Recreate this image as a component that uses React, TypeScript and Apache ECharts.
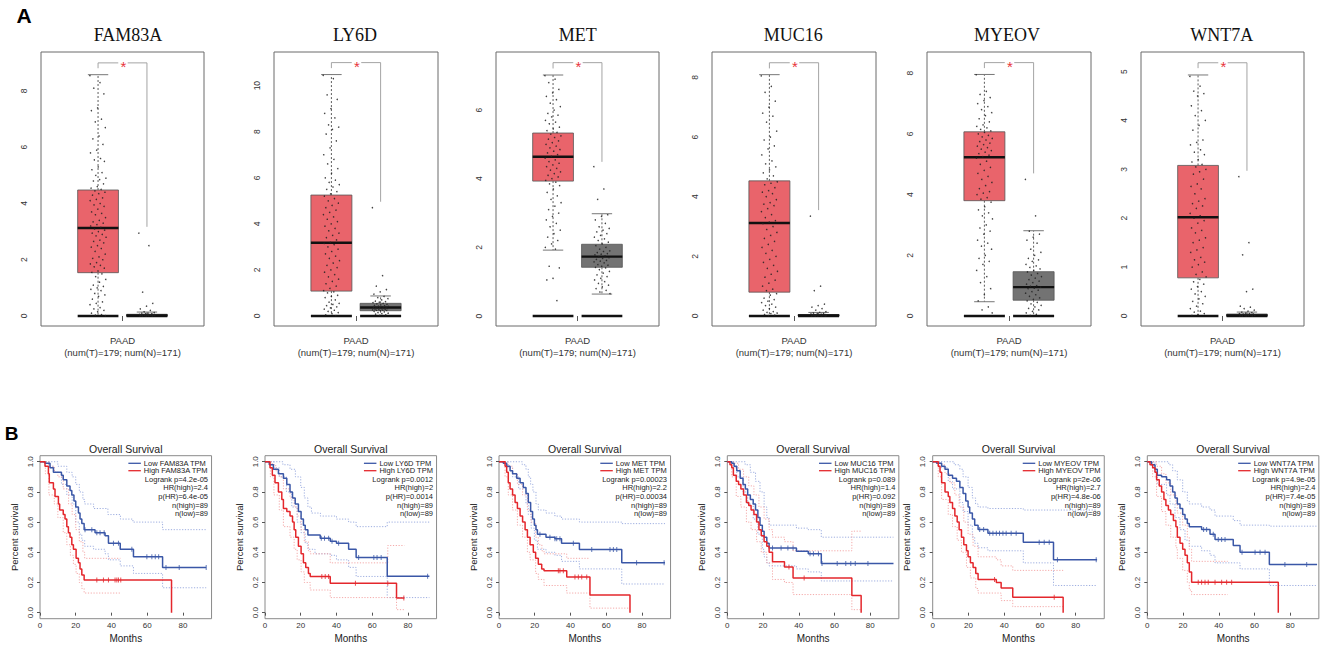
import React, { useEffect, useRef } from "react";
import * as echarts from "echarts";

const GENES = ["FAM83A", "LY6D", "MET", "MUC16", "MYEOV", "WNT7A"];
const CATEGORY_LABEL = "PAAD\n(num(T)=179; num(N)=171)";

// box stats: [min, q1, median, q3, max]
const TUMOR_STATS = [
  [0, 1.54, 3.13, 4.48, 8.58],
  [0, 1.08, 3.18, 5.25, 10.48],
  [1.92, 3.93, 4.64, 5.33, 7.02],
  [0, 0.8, 3.12, 4.53, 8.09],
  [0.47, 3.8, 5.23, 6.07, 7.96],
  [0, 0.78, 2.02, 3.08, 4.93],
];
const NORMAL_STATS = [
  [0, 0.0, 0.02, 0.06, 0.14],
  [0, 0.23, 0.37, 0.55, 0.87],
  [0.64, 1.42, 1.73, 2.09, 2.98],
  [0, 0.0, 0.02, 0.05, 0.12],
  [0, 0.52, 0.95, 1.46, 2.81],
  [0, 0.0, 0.01, 0.04, 0.08],
];
// significance bracket: [top, left end, right end]
const BRACKETS = [
  [9.0, 8.81, 3.17],
  [11.0, 10.76, 4.96],
  [7.38, 7.21, 4.49],
  [8.49, 8.3, 3.55],
  [8.35, 8.17, 4.7],
  [5.18, 5.07, 2.97],
];
const BOX_Y_RANGE = [
  [-0.356, 9.387],
  [-0.434, 11.46],
  [-0.29, 7.69],
  [-0.335, 8.85],
  [-0.33, 8.7],
  [-0.205, 5.4],
];
const BOX_Y_TICKS = [
  [0, 2, 4, 6, 8],
  [0, 2, 4, 6, 8, 10],
  [0, 2, 4, 6],
  [0, 2, 4, 6, 8],
  [0, 2, 4, 6, 8],
  [0, 1, 2, 3, 4, 5],
];

const FAM83A_T = [8.55, 8.3, 8.1, 7.9, 7.4, 7.3, 7.0, 6.9, 6.7, 6.4, 6.3, 6.1, 5.9, 5.8, 5.6, 5.55, 5.5, 5.3, 5.2, 5.1, 5.0, 4.9, 4.85, 4.8, 4.7, 4.6, 4.55, 4.5,
  4.45, 4.4, 4.35, 4.3, 4.2, 4.15, 4.1, 4.0, 3.95, 3.9, 3.8, 3.7, 3.65, 3.6, 3.5, 3.4, 3.35, 3.3, 3.25, 3.2, 3.15,
  3.1, 3.05, 3.0, 2.95, 2.9, 2.85, 2.8, 2.7, 2.65, 2.6, 2.5, 2.45, 2.4, 2.3, 2.2, 2.1, 2.05, 2.0, 1.9, 1.85, 1.8, 1.75, 1.7, 1.6, 1.55,
  1.5, 1.4, 1.3, 1.2, 1.1, 1.05, 1.0, 0.95, 0.9, 0.8, 0.75, 0.7, 0.6, 0.5, 0.45, 0.4, 0.3, 0.25, 0.2, 0.15, 0.1, 0.05, 0.03, 0.01];
const FAM83A_N = [2.95, 2.5, 0.85, 0.45, 0.35, 0.25, 0.2, 0.15, 0.12, 0.1, 0.1, 0.08, 0.08, 0.06, 0.05, 0.05, 0.04, 0.03, 0.03, 0.02, 0.02, 0.01, 0.01, 0, 0, 0, 0];
const LY6D_T = [10.45, 10.3, 9.6, 9.4, 9.0, 8.8, 8.6, 8.3, 8.2, 8.1, 7.9, 7.6, 7.3, 7.0, 6.8, 6.6, 6.4, 6.2, 6.0, 5.9, 5.8, 5.7, 5.6, 5.5, 5.4, 5.3,
  5.2, 5.1, 5.0, 4.9, 4.8, 4.7, 4.6, 4.5, 4.4, 4.3, 4.2, 4.1, 4.0, 3.9, 3.8, 3.7, 3.6, 3.5, 3.4, 3.3, 3.2,
  3.15, 3.1, 3.0, 2.9, 2.8, 2.7, 2.6, 2.5, 2.4, 2.3, 2.2, 2.1, 2.0, 1.9, 1.8, 1.7, 1.6, 1.5, 1.4, 1.3, 1.2, 1.1,
  1.05, 1.0, 0.9, 0.85, 0.8, 0.7, 0.6, 0.55, 0.5, 0.45, 0.4, 0.35, 0.3, 0.25, 0.2, 0.15, 0.1, 0.05, 0.02];
const LY6D_N = [4.7, 1.75, 1.3, 1.15, 1.05, 0.95, 0.85, 0.8, 0.75, 0.7, 0.65, 0.62, 0.6, 0.58, 0.55, 0.53, 0.5, 0.48, 0.46, 0.45, 0.43, 0.42, 0.4, 0.39, 0.38, 0.37, 0.36, 0.35, 0.34, 0.33, 0.32, 0.3, 0.29, 0.28, 0.27, 0.26, 0.25, 0.24, 0.23, 0.2, 0.18, 0.15, 0.12, 0.1, 0.08, 0.05, 0.03];
const MET_T = [7.0, 6.9, 6.8, 6.6, 6.5, 6.4, 6.3, 6.2, 6.1, 6.0, 5.9, 5.85, 5.8, 5.7, 5.65, 5.6, 5.5, 5.45, 5.4, 5.35,
  5.3, 5.25, 5.2, 5.15, 5.1, 5.05, 5.0, 4.95, 4.9, 4.85, 4.8, 4.75, 4.7, 4.65,
  4.6, 4.55, 4.5, 4.45, 4.4, 4.35, 4.3, 4.25, 4.2, 4.15, 4.1, 4.05, 4.0, 3.95,
  3.9, 3.85, 3.8, 3.7, 3.6, 3.5, 3.4, 3.3, 3.2, 3.1, 3.0, 2.9, 2.8, 2.7, 2.6, 2.5, 2.4, 2.3, 2.2, 2.1, 2.0, 1.95,
  1.45, 1.4, 1.1, 1.05, 0.45];
const MET_N = [4.35, 3.7, 3.4, 2.95, 2.9, 2.8, 2.7, 2.6, 2.55, 2.5, 2.45, 2.4, 2.35, 2.3, 2.25, 2.2, 2.15, 2.1, 2.05, 2.0, 1.95, 1.9, 1.88, 1.85, 1.82, 1.8, 1.78, 1.75, 1.72, 1.7, 1.68, 1.65, 1.62, 1.6, 1.58, 1.55, 1.5, 1.48, 1.45, 1.42, 1.4, 1.35, 1.3, 1.25, 1.2, 1.15, 1.1, 1.05, 1.0, 0.95, 0.9, 0.85, 0.8, 0.75, 0.7, 0.65];
const MUC16_T = [8.05, 7.7, 7.5, 7.2, 7.0, 6.8, 6.7, 6.5, 6.2, 6.0, 5.9, 5.7, 5.6, 5.4, 5.2, 5.1, 5.0, 4.9, 4.8, 4.7, 4.6,
  4.5, 4.45, 4.4, 4.3, 4.2, 4.15, 4.1, 4.0, 3.9, 3.8, 3.75, 3.7, 3.6, 3.5, 3.4, 3.3, 3.2, 3.15,
  3.1, 3.0, 2.9, 2.8, 2.7, 2.6, 2.5, 2.4, 2.3, 2.2, 2.1, 2.0, 1.9, 1.8, 1.7, 1.6, 1.5, 1.4, 1.3, 1.2, 1.1, 1.0, 0.9, 0.85,
  0.75, 0.7, 0.6, 0.55, 0.5, 0.45, 0.4, 0.35, 0.3, 0.25, 0.2, 0.15, 0.12, 0.1, 0.08, 0.05, 0.03, 0.01];
const MUC16_N = [3.35, 1.0, 0.85, 0.4, 0.35, 0.3, 0.25, 0.2, 0.15, 0.12, 0.1, 0.09, 0.08, 0.07, 0.06, 0.05, 0.05, 0.04, 0.04, 0.03, 0.03, 0.02, 0.02, 0.01, 0.01, 0, 0, 0, 0, 0];
const MYEOV_T = [7.95, 7.4, 7.3, 7.2, 7.1, 7.0, 6.9, 6.8, 6.7, 6.6, 6.5, 6.4, 6.3, 6.25, 6.2, 6.15, 6.1,
  6.05, 6.0, 5.95, 5.9, 5.85, 5.8, 5.75, 5.7, 5.65, 5.6, 5.55, 5.5, 5.45, 5.4, 5.35, 5.3, 5.25,
  5.2, 5.1, 5.0, 4.9, 4.8, 4.7, 4.6, 4.5, 4.4, 4.3, 4.2, 4.1, 4.05, 4.0, 3.9, 3.85,
  3.75, 3.6, 3.5, 3.4, 3.3, 3.2, 3.0, 2.9, 2.8, 2.7, 2.5, 2.4, 2.3, 2.2, 2.0, 1.9, 1.8, 1.7, 1.5, 1.3, 1.1, 0.9, 0.7, 0.5,
  0.3, 0.2, 0.1];
const MYEOV_N = [4.5, 3.3, 2.8, 2.7, 2.6, 2.5, 2.4, 2.2, 2.1, 2.0, 1.9, 1.85, 1.8, 1.7, 1.65, 1.6, 1.55, 1.5, 1.45, 1.4, 1.35, 1.3, 1.25, 1.2, 1.15, 1.1, 1.05, 1.0, 0.98, 0.95, 0.92, 0.9, 0.85, 0.8, 0.75, 0.7, 0.65, 0.6, 0.55, 0.5, 0.45, 0.4, 0.35, 0.3, 0.25, 0.2, 0.15, 0.1, 0.05, 0.02];
const WNT7A_T = [4.9, 4.7, 4.6, 4.55, 4.5, 4.3, 4.2, 4.1, 4.0, 3.9, 3.8, 3.6, 3.55, 3.5, 3.4, 3.35, 3.3, 3.2, 3.15, 3.1,
  3.05, 3.0, 2.95, 2.9, 2.8, 2.7, 2.65, 2.6, 2.5, 2.4, 2.35, 2.3, 2.25, 2.2, 2.1, 2.05,
  2.0, 1.95, 1.9, 1.8, 1.75, 1.7, 1.6, 1.55, 1.5, 1.4, 1.35, 1.3, 1.2, 1.15, 1.1, 1.05, 1.0, 0.9, 0.85, 0.8,
  0.75, 0.7, 0.65, 0.6, 0.55, 0.5, 0.45, 0.4, 0.35, 0.3, 0.25, 0.2, 0.15, 0.1, 0.08, 0.05, 0.03, 0.01];
const WNT7A_N = [2.85, 1.5, 1.25, 0.55, 0.5, 0.2, 0.18, 0.15, 0.12, 0.1, 0.08, 0.07, 0.06, 0.05, 0.05, 0.04, 0.04, 0.03, 0.03, 0.02, 0.02, 0.01, 0.01, 0, 0, 0, 0];

const TUMOR_POINTS = [FAM83A_T, LY6D_T, MET_T, MUC16_T, MYEOV_T, WNT7A_T];
const NORMAL_POINTS = [FAM83A_N, LY6D_N, MET_N, MUC16_N, MYEOV_N, WNT7A_N];

// ---------- Kaplan-Meier data: [months, survival] step points ----------
const KM_STATS = [
  ["Logrank p=4.2e-05", "HR(high)=2.4", "p(HR)=6.4e-05", "n(high)=89", "n(low)=89"],
  ["Logrank p=0.0012", "HR(high)=2", "p(HR)=0.0014", "n(high)=89", "n(low)=89"],
  ["Logrank p=0.00023", "HR(high)=2.2", "p(HR)=0.00034", "n(high)=89", "n(low)=89"],
  ["Logrank p=0.089", "HR(high)=1.4", "p(HR)=0.092", "n(high)=89", "n(low)=89"],
  ["Logrank p=2e-06", "HR(high)=2.7", "p(HR)=4.8e-06", "n(high)=89", "n(low)=89"],
  ["Logrank p=4.9e-05", "HR(high)=2.4", "p(HR)=7.4e-05", "n(high)=89", "n(low)=89"],
];
const KM_X_TICKS = [0, 20, 40, 60, 80];
const KM_Y_TICKS = [0, 0.2, 0.4, 0.6, 0.8, 1.0];

const FAM83A_LOW = [[0,1],[2.8,0.99],[5.6,0.96],[7.5,0.93],[12,0.91],[13,0.88],[15,0.84],[16.8,0.81],[17.8,0.78],[19,0.74],[20,0.70],[21.5,0.66],[22.4,0.62],[23.4,0.59],[24.7,0.55],[30.8,0.53],[36.4,0.51],[38.3,0.46],[44.9,0.42],[52.3,0.37],[68.6,0.30],[93,0.30]];
const FAM83A_HIGH = [[0,1],[2.8,0.97],[4.7,0.92],[5.2,0.86],[7.5,0.82],[8.4,0.77],[10.3,0.72],[11,0.68],[13,0.65],[14,0.62],[15,0.57],[15.9,0.53],[16.8,0.50],[17.8,0.45],[18.7,0.42],[20.2,0.36],[21.5,0.33],[22.4,0.29],[23.4,0.25],[24.7,0.216],[73.6,0]];
const FAM83A_LOW_UP = [[0,1],[10,0.97],[15,0.93],[18,0.9],[20,0.85],[22,0.8],[24,0.75],[25,0.72],[30,0.69],[38,0.65],[45,0.62],[52,0.60],[68.6,0.55],[93,0.55]];
const FAM83A_LOW_LO = [[0,1],[5,0.97],[8,0.93],[12,0.85],[15,0.78],[18,0.72],[20,0.6],[22,0.52],[23.4,0.48],[25,0.44],[30,0.42],[36.4,0.39],[38.3,0.35],[44.9,0.31],[52.3,0.26],[68.6,0.165],[93,0.165]];
const FAM83A_HIGH_UP = [[0,1],[5,0.97],[8,0.93],[10,0.9],[13,0.82],[16,0.72],[18,0.65],[20,0.55],[22,0.47],[24,0.40],[25,0.36],[45,0.36]];
const FAM83A_HIGH_LO = [[0,1],[3,0.92],[5,0.78],[8,0.72],[10,0.63],[13,0.53],[15,0.45],[17,0.38],[18.7,0.32],[20.2,0.26],[22,0.2],[23.4,0.16],[24.7,0.13],[45,0.13]];
const FAM83A_LOW_CENS = [25.2, 29, 31.8, 33.6, 35.9, 41.1, 43.9, 51.4, 59.8, 62.6, 64.5, 66.4, 70.5, 77.9, 93];
const FAM83A_HIGH_CENS = [31.8, 35.5, 38.3, 42, 43, 43.9, 45.2];

const LY6D_LOW = [[0,1],[2.4,0.98],[4.7,0.95],[7.5,0.92],[10.3,0.89],[12.2,0.85],[14,0.80],[15.4,0.76],[16.9,0.72],[18.7,0.67],[20.2,0.62],[21.5,0.58],[22.5,0.55],[24,0.515],[30.9,0.493],[36.5,0.473],[40,0.46],[46.8,0.42],[51,0.365],[68.4,0.241],[92,0.241]];
const LY6D_HIGH = [[0,1],[2.8,0.96],[4.1,0.91],[5.6,0.86],[7.5,0.80],[9.4,0.75],[10.3,0.69],[12.2,0.67],[14,0.64],[15.4,0.60],[16.3,0.55],[17.2,0.50],[18.7,0.44],[20.2,0.39],[21.5,0.33],[22.8,0.30],[24.3,0.26],[25.3,0.24],[36.5,0.195],[73.6,0.097],[78,0.097]];
const LY6D_LOW_UP = [[0,1],[10,0.98],[14,0.95],[17,0.9],[20,0.83],[22,0.76],[24,0.7],[26,0.66],[31,0.64],[40,0.62],[46.8,0.6],[51,0.57],[68.4,0.6],[92,0.6]];
const LY6D_LOW_LO = [[0,1],[5,0.96],[8,0.9],[12,0.8],[15,0.7],[18,0.6],[20.2,0.53],[22.5,0.46],[24,0.42],[28,0.39],[36.5,0.38],[40,0.35],[46.8,0.3],[51,0.24],[68.4,0.1],[92,0.1]];
const LY6D_HIGH_UP = [[0,1],[4,0.98],[6,0.94],[8,0.9],[10.3,0.82],[14,0.76],[16.3,0.7],[18,0.64],[20.2,0.55],[22,0.47],[24.3,0.41],[25.3,0.39],[36.5,0.33],[68.7,0.445],[78,0.445]];
const LY6D_HIGH_LO = [[0,1],[3,0.9],[5,0.78],[8,0.68],[10.3,0.57],[14,0.5],[16.3,0.42],[18,0.35],[20.2,0.27],[22,0.2],[25.3,0.15],[36.5,0.1],[73.6,0.02],[78,0.02]];
const LY6D_LOW_CENS = [31.5, 33.3, 35.6, 37.5, 41.2, 52.4, 60.9, 62.7, 65, 91];
const LY6D_HIGH_CENS = [31.8, 33.7, 35.6, 50.6, 68.7, 77.7];

const MET_LOW = [[0,1],[2.4,0.99],[4.3,0.97],[6.2,0.94],[7.6,0.92],[9.9,0.89],[11.8,0.86],[13.6,0.83],[15.1,0.79],[16.4,0.73],[17.7,0.67],[18.8,0.62],[19.8,0.58],[20.7,0.55],[21.5,0.52],[26.3,0.50],[31.3,0.49],[35,0.46],[45,0.418],[68.7,0.33],[92.9,0.33]];
const MET_HIGH = [[0,1],[3.4,0.97],[4.3,0.93],[5.2,0.86],[6.2,0.82],[7.6,0.78],[9,0.73],[10.3,0.69],[11.8,0.64],[13.2,0.60],[14.6,0.55],[15.9,0.50],[17.4,0.45],[19.2,0.40],[20.5,0.36],[22,0.32],[23.9,0.29],[25.2,0.277],[37.9,0.237],[50.9,0.117],[73.3,0]];
const MET_LOW_UP = [[0,1],[13,0.98],[15.1,0.95],[16.4,0.9],[17.7,0.85],[19,0.8],[20.7,0.72],[22,0.68],[26.3,0.66],[31.3,0.64],[35,0.62],[45,0.6],[68.7,0.59],[92.9,0.59]];
const MET_LOW_LO = [[0,1],[5,0.96],[7.6,0.9],[11,0.82],[15.1,0.72],[16.4,0.65],[18,0.56],[19.8,0.48],[21.5,0.42],[26.3,0.40],[31.3,0.38],[35,0.34],[45,0.29],[68.7,0.19],[92.9,0.19]];
const MET_HIGH_UP = [[0,1],[5,0.97],[7.6,0.92],[10.3,0.85],[13.2,0.78],[15.9,0.68],[18,0.6],[20.5,0.5],[22,0.45],[24,0.41],[25.2,0.39],[37.9,0.36],[50.9,0.36]];
const MET_HIGH_LO = [[0,1],[3.4,0.9],[5.2,0.78],[7.6,0.68],[10.3,0.58],[13.2,0.5],[15.9,0.4],[17.4,0.35],[20.5,0.26],[22,0.22],[25.2,0.18],[37.9,0.13],[50.9,0.03],[73.3,0.03]];
const MET_LOW_CENS = [22.9, 28.5, 31.3, 32.3, 34.1, 41.6, 51.9, 62.1, 64, 65.9, 77, 92.4];
const MET_HIGH_CENS = [33.2, 34.1, 36, 42.5, 44.4, 46.3, 49.1];

const MUC16_LOW = [[0,1],[2.5,0.99],[3.8,0.97],[5.3,0.94],[7.2,0.89],[8.8,0.85],[10.1,0.82],[11.4,0.78],[12.9,0.75],[14.5,0.72],[15.8,0.68],[17.1,0.63],[18.3,0.58],[19.6,0.54],[20.6,0.50],[22.1,0.46],[23.4,0.429],[38.7,0.407],[45.3,0.39],[52.6,0.325],[93,0.325]];
const MUC16_HIGH = [[0,1],[1.5,0.98],[2.5,0.96],[3.4,0.91],[5,0.87],[6.3,0.85],[7.6,0.82],[9.1,0.78],[10.7,0.73],[12,0.71],[13.3,0.68],[14.9,0.65],[16.4,0.60],[17.7,0.55],[19,0.51],[20.6,0.47],[22.1,0.44],[23.4,0.40],[25.3,0.338],[32,0.303],[36.8,0.23],[69.7,0.113],[74.9,0]];
const MUC16_LOW_UP = [[0,1],[10,0.98],[12.9,0.93],[15.8,0.87],[18.3,0.8],[20.6,0.7],[22.1,0.63],[23.4,0.58],[38.7,0.56],[45.3,0.55],[52.6,0.5],[93,0.5]];
const MUC16_LOW_LO = [[0,1],[3.8,0.96],[5.3,0.9],[8.8,0.8],[11.4,0.72],[14.5,0.62],[17.1,0.52],[19.6,0.42],[20.6,0.37],[22.1,0.33],[23.4,0.31],[38.7,0.29],[45.3,0.27],[52.6,0.21],[93,0.21]];
const MUC16_HIGH_UP = [[0,1],[3.4,0.99],[6.3,0.95],[9.1,0.9],[12,0.84],[14.9,0.78],[17.7,0.7],[20.6,0.62],[23.4,0.55],[25.3,0.5],[32,0.47],[36.8,0.41],[69.7,0.54],[74.9,0.54]];
const MUC16_HIGH_LO = [[0,1],[2.5,0.9],[5,0.77],[7.6,0.7],[10.7,0.6],[13.3,0.55],[16.4,0.47],[19,0.4],[22.1,0.33],[25.3,0.22],[32,0.2],[36.8,0.12],[69.7,0.02],[74.9,0.02]];
const MUC16_LOW_CENS = [25.3, 30.1, 33.9, 36.8, 46.3, 48.2, 51, 53, 61.5, 66.3, 69.1, 71.6, 78.7];
const MUC16_HIGH_CENS = [34.5, 43];

const MYEOV_LOW = [[0,1],[2.2,0.99],[5,0.97],[6.9,0.95],[8.7,0.91],[11.1,0.89],[13.3,0.87],[15.2,0.83],[17,0.79],[18.5,0.74],[19.8,0.70],[20.7,0.66],[22.2,0.62],[23.5,0.58],[25.4,0.551],[30.9,0.527],[50.7,0.467],[67.6,0.35],[92,0.35]];
const MYEOV_HIGH = [[0,1],[3.1,0.97],[4.1,0.93],[5,0.86],[6.9,0.80],[8.7,0.77],[9.6,0.73],[11.1,0.69],[12.4,0.64],[13.7,0.60],[14.8,0.55],[16.1,0.50],[17.4,0.45],[18.9,0.41],[19.8,0.37],[21.1,0.33],[22.6,0.30],[24.1,0.26],[25.4,0.219],[35.6,0.20],[38.3,0.164],[44.8,0.102],[73,0]];
const MYEOV_LOW_UP = [[0,1],[12,0.98],[15.2,0.95],[17,0.9],[19.8,0.83],[22.2,0.76],[24,0.72],[25.4,0.70],[30.9,0.69],[50.7,0.68],[92,0.68]];
const MYEOV_LOW_LO = [[0,1],[5,0.96],[8.7,0.87],[11.1,0.82],[15.2,0.73],[17,0.67],[19.8,0.58],[22.2,0.5],[23.5,0.46],[25.4,0.43],[30.9,0.41],[50.7,0.33],[67.6,0.18],[92,0.18]];
const MYEOV_HIGH_UP = [[0,1],[4.1,0.98],[6.9,0.92],[9.6,0.86],[12.4,0.78],[14.8,0.7],[17.4,0.6],[19.8,0.52],[22.6,0.44],[25.4,0.37],[35.6,0.35],[38.3,0.31],[44.8,0.28],[73,0.28]];
const MYEOV_HIGH_LO = [[0,1],[3.1,0.9],[5,0.75],[8.7,0.65],[11.1,0.57],[13.7,0.48],[16.1,0.4],[18.9,0.3],[21.1,0.23],[24.1,0.16],[25.4,0.13],[38.3,0.08],[44.8,0.04],[73,0.04]];
const MYEOV_LOW_CENS = [26.3, 28.5, 31.9, 33.7, 35.6, 37.4, 39.3, 41.1, 43.9, 46.7, 59.6, 62.4, 65.2, 69.8, 91.5];
const MYEOV_HIGH_CENS = [34.6, 68];

const WNT7A_LOW = [[0,1],[2.4,0.98],[4.3,0.95],[5.6,0.91],[8,0.90],[10.8,0.88],[12.7,0.84],[14.2,0.80],[15.5,0.76],[16.8,0.72],[18.3,0.69],[19.8,0.65],[21.1,0.62],[22.4,0.59],[23.5,0.569],[30.4,0.551],[35.1,0.52],[37.9,0.484],[48.1,0.445],[51.9,0.40],[68.3,0.319],[95,0.319]];
const WNT7A_HIGH = [[0,1],[1.5,0.98],[3,0.96],[4.3,0.93],[5.2,0.88],[6.7,0.84],[8,0.80],[9.3,0.75],[10.4,0.71],[11.8,0.68],[13.1,0.65],[14.6,0.61],[16,0.57],[16.8,0.50],[18.3,0.46],[19.8,0.42],[21.1,0.38],[22.4,0.33],[23.5,0.27],[24.8,0.201],[73.3,0]];
const WNT7A_LOW_UP = [[0,1],[12,0.98],[14.2,0.94],[16.8,0.88],[19.8,0.8],[22.4,0.74],[23.5,0.72],[30.4,0.70],[35.1,0.68],[37.9,0.64],[48.1,0.61],[51.9,0.58],[68.3,0.573],[95,0.573]];
const WNT7A_LOW_LO = [[0,1],[4.3,0.93],[5.6,0.85],[10.8,0.78],[12.7,0.72],[15.5,0.63],[18.3,0.55],[21.1,0.48],[23.5,0.44],[30.4,0.41],[35.1,0.38],[37.9,0.33],[51.9,0.29],[68.3,0.18],[95,0.18]];
const WNT7A_HIGH_UP = [[0,1],[5.2,0.97],[8,0.92],[10.4,0.86],[13.1,0.78],[16,0.72],[16.8,0.66],[19.8,0.58],[22.4,0.5],[23.5,0.42],[24.8,0.34],[45,0.34]];
const WNT7A_HIGH_LO = [[0,1],[3,0.9],[5.2,0.77],[8,0.67],[10.4,0.58],[13.1,0.5],[16,0.43],[16.8,0.36],[19.8,0.28],[22.4,0.2],[23.5,0.15],[24.8,0.12],[45,0.12]];
const WNT7A_LOW_CENS = [31.5, 33.2, 36.9, 39.7, 41.6, 43.5, 53, 60.3, 63.1, 65.9, 77, 89.2];
const WNT7A_HIGH_CENS = [28.5, 30.4, 32.3, 34.1, 37.9, 41.6, 44.4, 47.2];

const KM_LOW = [FAM83A_LOW, LY6D_LOW, MET_LOW, MUC16_LOW, MYEOV_LOW, WNT7A_LOW];
const KM_HIGH = [FAM83A_HIGH, LY6D_HIGH, MET_HIGH, MUC16_HIGH, MYEOV_HIGH, WNT7A_HIGH];
const KM_LOW_UP = [FAM83A_LOW_UP, LY6D_LOW_UP, MET_LOW_UP, MUC16_LOW_UP, MYEOV_LOW_UP, WNT7A_LOW_UP];
const KM_LOW_LO = [FAM83A_LOW_LO, LY6D_LOW_LO, MET_LOW_LO, MUC16_LOW_LO, MYEOV_LOW_LO, WNT7A_LOW_LO];
const KM_HIGH_UP = [FAM83A_HIGH_UP, LY6D_HIGH_UP, MET_HIGH_UP, MUC16_HIGH_UP, MYEOV_HIGH_UP, WNT7A_HIGH_UP];
const KM_HIGH_LO = [FAM83A_HIGH_LO, LY6D_HIGH_LO, MET_HIGH_LO, MUC16_HIGH_LO, MYEOV_HIGH_LO, WNT7A_HIGH_LO];
const KM_LOW_CENS = [FAM83A_LOW_CENS, LY6D_LOW_CENS, MET_LOW_CENS, MUC16_LOW_CENS, MYEOV_LOW_CENS, WNT7A_LOW_CENS];
const KM_HIGH_CENS = [FAM83A_HIGH_CENS, LY6D_HIGH_CENS, MET_HIGH_CENS, MUC16_HIGH_CENS, MYEOV_HIGH_CENS, WNT7A_HIGH_CENS];

// ---------- layout / style ----------
const W = 1321;
const H = 652;
const SANS = '"Liberation Sans", Arial, Helvetica, sans-serif';
const SERIF = '"Liberation Serif", "Times New Roman", serif';
const BOX_LEFT = [41, 274, 496, 712, 927, 1141];
const BOX_RIGHT = [204, 438, 659, 876, 1091, 1304];
const BOX_TOP = 52;
const BOX_BOTTOM = 326;
const TITLE_CX = [128, 355, 577.7, 793.3, 1007, 1221.7];
const TUMOR_X = 0.35;
const NORMAL_X = 0.65;
const BOX_W = 0.25;
const JITTER = 0.05;
const TUMOR_FILL = "#E9646B";
const NORMAL_FILL = "#737373";

const KM_LEFT = [40, 265, 499, 727.3, 932.7, 1147.3];
const KM_X_MAX = 96;
const KM_PX_PER_MONTH = 1.787;
const KM_TOP = 455.7;
const KM_HEIGHT = 163;
const KM_Y_MIN = -0.04;
const KM_Y_MAX = 1.04;
const BLUE = "#3A57A7";
const RED = "#E4272C";
const BLUE_CI = "#93A5DD";
const RED_CI = "#F3A0A0";

function stepAt(curve: number[][], t: number) {
  let s = curve[0][1];
  for (const p of curve) {
    if (p[0] <= t) s = p[1];
  }
  return s;
}

function jitterX(center: number, k: number) {
  return center + (((k * 0.6180339887) % 1) - 0.5) * 2 * JITTER;
}

function boxRender(params: any, api: any) {
  const xc = api.value(0);
  const mn = api.value(1), q1 = api.value(2), md = api.value(3), q3 = api.value(4), mx = api.value(5);
  const fill = params.dataIndex === 0 ? TUMOR_FILL : NORMAL_FILL;
  const half = BOX_W / 2;
  const pL = api.coord([xc - half, q3]);
  const pR = api.coord([xc + half, q1]);
  const cx = api.coord([xc, 0])[0];
  const capL = api.coord([xc - half / 2, 0])[0];
  const capR = api.coord([xc + half / 2, 0])[0];
  const yMin = api.coord([xc, mn])[1];
  const yMax = api.coord([xc, mx])[1];
  const yMed = api.coord([xc, md])[1];
  const y0 = api.coord([xc, 0])[1];
  const children: any[] = [
    { type: "line", shape: { x1: cx, y1: pL[1], x2: cx, y2: yMax }, style: { stroke: "#333", lineWidth: 0.8, lineDash: [2, 2] } },
    { type: "line", shape: { x1: cx, y1: pR[1], x2: cx, y2: yMin }, style: { stroke: "#333", lineWidth: 0.8, lineDash: [2, 2] } },
    { type: "line", shape: { x1: capL, y1: yMax, x2: capR, y2: yMax }, style: { stroke: "#777", lineWidth: 1 } },
    { type: "line", shape: { x1: capL, y1: yMin, x2: capR, y2: yMin }, style: { stroke: "#777", lineWidth: 1 } },
    { type: "rect", shape: { x: pL[0], y: pL[1], width: pR[0] - pL[0], height: Math.max(pR[1] - pL[1], 0.8) }, style: { fill, stroke: "#555", lineWidth: 0.8 } },
    { type: "line", shape: { x1: pL[0], y1: yMed, x2: pR[0], y2: yMed }, style: { stroke: "#111", lineWidth: 2.4 } },
    { type: "line", shape: { x1: pL[0], y1: y0, x2: pR[0], y2: y0 }, style: { stroke: "#111", lineWidth: 2.4 } },
  ];
  return { type: "group", children };
}

function bracketRender(params: any, api: any) {
  const top = api.value(0), le = api.value(1), re = api.value(2);
  const a = api.coord([TUMOR_X, top]);
  const aL = api.coord([TUMOR_X, le]);
  const b = api.coord([NORMAL_X, top]);
  const bR = api.coord([NORMAL_X, re]);
  const g1 = api.coord([0.474, top]);
  const g2 = api.coord([0.532, top]);
  const st = api.coord([0.505, top]);
  return {
    type: "group",
    children: [
      { type: "polyline", shape: { points: [[aL[0], aL[1]], [a[0], a[1]], [g1[0], g1[1]]] }, style: { stroke: "#9a9a9a", lineWidth: 0.9, fill: null } },
      { type: "polyline", shape: { points: [[g2[0], g2[1]], [b[0], b[1]], [bR[0], bR[1]]] }, style: { stroke: "#9a9a9a", lineWidth: 0.9, fill: null } },
      { type: "text", x: st[0], y: st[1] + 3.5, style: { text: "*", fill: "#E8343A", fontSize: 15, fontFamily: SANS, align: "center", verticalAlign: "middle", textAlign: "center", textVerticalAlign: "middle" } },
    ],
  };
}

function buildOption() {
  const grid: any[] = [];
  const xAxis: any[] = [];
  const yAxis: any[] = [];
  const series: any[] = [];
  const graphic: any[] = [];

  const ctx = document.createElement("canvas").getContext("2d") as CanvasRenderingContext2D;
  ctx.font = `7.5px ${SANS}`;

  GENES.forEach((g, i) => {
    grid.push({
      left: BOX_LEFT[i], top: BOX_TOP, width: BOX_RIGHT[i] - BOX_LEFT[i], height: BOX_BOTTOM - BOX_TOP,
      show: true, borderColor: "#6a6a6a", borderWidth: 1, backgroundColor: "transparent",
    });
    xAxis.push({
      gridIndex: i, type: "value", min: 0, max: 1,
      axisLine: { show: false }, splitLine: { show: false },
      axisTick: { show: true, customValues: [0.5], length: 5, lineStyle: { color: "#555" } },
      axisLabel: { customValues: [0.5], formatter: () => CATEGORY_LABEL, fontSize: 9.5, lineHeight: 12, color: "#333", fontFamily: SANS, margin: 8 },
    });
    yAxis.push({
      gridIndex: i, type: "value", min: BOX_Y_RANGE[i][0], max: BOX_Y_RANGE[i][1],
      axisLine: { show: false }, splitLine: { show: false },
      axisTick: { show: false },
      axisLabel: { customValues: BOX_Y_TICKS[i], rotate: 90, fontSize: 8.5, color: "#333", fontFamily: SANS, margin: 13 },
    });
    series.push({
      type: "custom", xAxisIndex: i, yAxisIndex: i, renderItem: boxRender, silent: true,
      data: [[TUMOR_X, ...TUMOR_STATS[i]], [NORMAL_X, ...NORMAL_STATS[i]]],
    });
    series.push({
      type: "scatter", xAxisIndex: i, yAxisIndex: i, symbolSize: 1.5, silent: true,
      itemStyle: { color: "#222", opacity: 0.85 },
      data: TUMOR_POINTS[i].map((v, k) => [jitterX(TUMOR_X, k), v]),
    });
    series.push({
      type: "scatter", xAxisIndex: i, yAxisIndex: i, symbolSize: 1.5, silent: true,
      itemStyle: { color: "#222", opacity: 0.85 },
      data: NORMAL_POINTS[i].map((v, k) => [jitterX(NORMAL_X, k), v]),
    });
    series.push({
      type: "custom", xAxisIndex: i, yAxisIndex: i, renderItem: bracketRender, silent: true,
      data: [BRACKETS[i]],
    });
    graphic.push({
      type: "text", x: TITLE_CX[i], y: 34.5,
      style: { text: g, fontSize: 18, fontFamily: SERIF, fill: "#111", align: "center", verticalAlign: "middle", textAlign: "center", textVerticalAlign: "middle" },
    });
  });

  const kmW = KM_X_MAX * KM_PX_PER_MONTH;
  GENES.forEach((g, i) => {
    const gi = 6 + i;
    grid.push({
      left: KM_LEFT[i], top: KM_TOP, width: kmW, height: KM_HEIGHT,
      show: true, borderColor: "#8a8a8a", borderWidth: 1, backgroundColor: "transparent",
    });
    xAxis.push({
      gridIndex: gi, type: "value", min: 0, max: KM_X_MAX,
      name: "Months", nameLocation: "middle", nameGap: 15,
      nameTextStyle: { fontSize: 10, color: "#222", fontFamily: SANS },
      axisLine: { show: false }, splitLine: { show: false },
      axisTick: { show: true, customValues: KM_X_TICKS, length: 3, lineStyle: { color: "#555" } },
      axisLabel: { customValues: KM_X_TICKS, fontSize: 8, color: "#333", fontFamily: SANS, margin: 3 },
    });
    yAxis.push({
      gridIndex: gi, type: "value", min: KM_Y_MIN, max: KM_Y_MAX,
      name: "Percent survival", nameLocation: "middle", nameGap: 21,
      nameTextStyle: { fontSize: 9.5, color: "#222", fontFamily: SANS },
      axisLine: { show: false }, splitLine: { show: false },
      axisTick: { show: true, customValues: KM_Y_TICKS, length: 3, lineStyle: { color: "#555" } },
      axisLabel: { customValues: KM_Y_TICKS, rotate: 90, fontSize: 8, color: "#333", fontFamily: SANS, margin: 6, formatter: (v: number) => v.toFixed(1) },
    });
    const ci = (data: number[][], color: string) => ({
      type: "line", xAxisIndex: gi, yAxisIndex: gi, step: "end", showSymbol: false, symbol: "none", silent: true,
      lineStyle: { color, width: 0.9, type: [1.2, 1.6] }, data,
    });
    series.push(ci(KM_LOW_UP[i], BLUE_CI), ci(KM_LOW_LO[i], BLUE_CI), ci(KM_HIGH_UP[i], RED_CI), ci(KM_HIGH_LO[i], RED_CI));
    const main = (data: number[][], color: string) => ({
      type: "line", xAxisIndex: gi, yAxisIndex: gi, step: "end", showSymbol: false, symbol: "none", silent: true,
      lineStyle: { color, width: 1.5 }, data,
    });
    series.push(main(KM_LOW[i], BLUE), main(KM_HIGH[i], RED));
    const cens = (times: number[], curve: number[][], color: string) => ({
      type: "scatter", xAxisIndex: gi, yAxisIndex: gi, symbol: "rect", symbolSize: [1, 5], silent: true,
      itemStyle: { color }, data: times.map((t) => [t, stepAt(curve, t)]),
    });
    series.push(cens(KM_LOW_CENS[i], KM_LOW[i], BLUE), cens(KM_HIGH_CENS[i], KM_HIGH[i], RED));

    const cx = KM_LEFT[i] + kmW / 2;
    graphic.push({
      type: "text", x: cx, y: 449.3,
      style: { text: "Overall Survival", fontSize: 10.5, fontFamily: SANS, fill: "#222", align: "center", verticalAlign: "middle", textAlign: "center", textVerticalAlign: "middle" },
    });
    const R = KM_LEFT[i] + kmW - 3.5;
    const L = R - ctx.measureText(`High ${g} TPM`).width;
    const entries = [[`Low ${g} TPM`, BLUE], [`High ${g} TPM`, RED]];
    entries.forEach(([txt, col], k) => {
      const y = KM_TOP + 7.6 + k * 7.4;
      graphic.push({ type: "line", shape: { x1: L - 15.5, y1: y, x2: L - 3, y2: y }, style: { stroke: col, lineWidth: 1.3 } });
      graphic.push({ type: "text", x: L, y, style: { text: txt, fontSize: 7.5, fontFamily: SANS, fill: "#222", align: "left", verticalAlign: "middle", textAlign: "left", textVerticalAlign: "middle" } });
    });
    KM_STATS[i].forEach((txt, k) => {
      graphic.push({
        type: "text", x: R, y: KM_TOP + 23.6 + k * 8.67,
        style: { text: txt, fontSize: 7.5, fontFamily: SANS, fill: "#222", align: "right", verticalAlign: "middle", textAlign: "right", textVerticalAlign: "middle" },
      });
    });
  });

  graphic.push({ type: "text", x: 24, y: 15.5, style: { text: "A", fontSize: 21, fontWeight: "bold", fontFamily: SANS, fill: "#000", align: "center", verticalAlign: "middle", textAlign: "center", textVerticalAlign: "middle" } });
  graphic.push({ type: "text", x: 11.7, y: 433.5, style: { text: "B", fontSize: 19, fontWeight: "bold", fontFamily: SANS, fill: "#000", align: "center", verticalAlign: "middle", textAlign: "center", textVerticalAlign: "middle" } });

  return {
    animation: false,
    backgroundColor: "#ffffff",
    grid, xAxis, yAxis, series,
    graphic: { elements: graphic },
  };
}

export default function App() {
  const ref = useRef<HTMLDivElement>(null);
  useEffect(() => {
    document.body.style.margin = "0";
    if (!ref.current) return;
    const chart = echarts.init(ref.current, undefined, { renderer: "svg", width: W, height: H });
    chart.setOption(buildOption() as any);
    return () => chart.dispose();
  }, []);
  return <div ref={ref} style={{ width: W, height: H }} />;
}
